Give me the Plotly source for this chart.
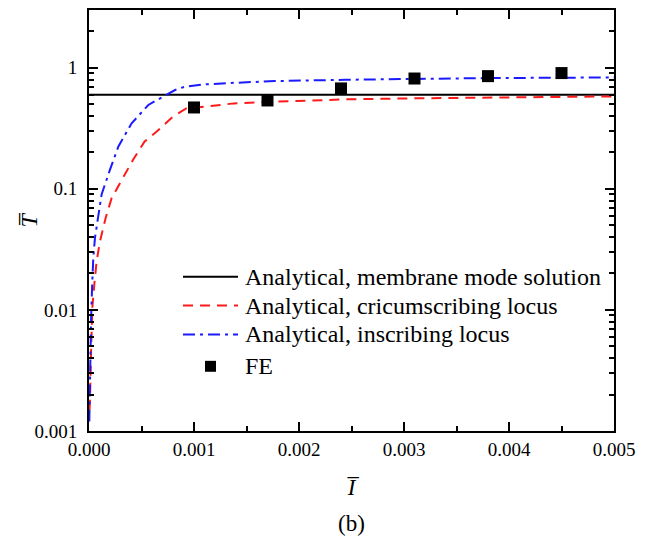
import plotly.graph_objects as go

# ---- data ----
membrane_x = [0.0, 0.005]
membrane_y = [0.6, 0.6]

circ_x = [0.000005, 0.00001, 0.00002, 0.000032, 0.000051, 0.000073, 0.000105, 0.000159,
          0.000216, 0.00031, 0.00042, 0.00053, 0.000645, 0.0008, 0.00093, 0.00112,
          0.00138, 0.00178, 0.00244, 0.00311, 0.0038, 0.005]
circ_y = [0.0015, 0.0019, 0.0046, 0.0105, 0.0164, 0.0254, 0.037, 0.0577,
          0.084, 0.119, 0.174, 0.246, 0.297, 0.395, 0.463, 0.478,
          0.508, 0.525, 0.548, 0.559, 0.569, 0.58]

insc_x = [0.000003, 0.00001, 0.00002, 0.00003, 0.000041, 0.000057, 0.000089, 0.00012,
          0.0002, 0.00028, 0.000406, 0.000565, 0.00074, 0.00082, 0.00091, 0.00109,
          0.0014, 0.00177, 0.00244, 0.00311, 0.0038, 0.005]
insc_y = [0.0012, 0.004, 0.0085, 0.016, 0.027, 0.0395, 0.0615, 0.09,
          0.144, 0.224, 0.348, 0.493, 0.6, 0.655, 0.697, 0.728,
          0.752, 0.776, 0.796, 0.812, 0.822, 0.832]

fe_x = [0.001, 0.0017, 0.0024, 0.0031, 0.0038, 0.0045]
fe_y = [0.47, 0.537, 0.675, 0.815, 0.853, 0.904]

x_tickvals = [0, 0.001, 0.002, 0.003, 0.004, 0.005]
x_ticktext = ["0.000", "0.001", "0.002", "0.003", "0.004", "0.005"]

legend_labels = ["Analytical, membrane mode solution",
                 "Analytical, cricumscribing locus",
                 "Analytical, inscribing locus",
                 "FE"]

FONT = "Times New Roman, Liberation Serif, serif"
RED = "#ff1a1a"
BLUE = "#1a1aff"

fig = go.Figure()
fig.add_trace(go.Scatter(x=membrane_x, y=membrane_y, mode="lines",
                         name=legend_labels[0], showlegend=False,
                         line=dict(color="black", width=2)))
fig.add_trace(go.Scatter(x=circ_x, y=circ_y, mode="lines",
                         name=legend_labels[1], showlegend=False,
                         line=dict(color=RED, width=2, dash="10px,7px")))
fig.add_trace(go.Scatter(x=insc_x, y=insc_y, mode="lines",
                         name=legend_labels[2], showlegend=False,
                         line=dict(color=BLUE, width=2, dash="12px,5px,3px,5px")))
fig.add_trace(go.Scatter(x=fe_x, y=fe_y, mode="markers", name=legend_labels[3],
                         showlegend=False,
                         marker=dict(symbol="square", color="black", size=12)))

# ---- hand-made legend (pixel layout converted to paper coords) ----
L, R, T, B = 89, 614, 8, 431
W, H = R - L, B - T
def px(x):
    return (x - L) / W
def py(y):
    return (B - y) / H

row_y = [276, 305, 334, 366]
styles = [dict(color="black", width=2),
          dict(color=RED, width=2, dash="10px,7px"),
          dict(color=BLUE, width=2, dash="12px,5px,3px,5px")]
shapes = []
for yy, st in zip(row_y[:3], styles):
    shapes.append(dict(type="line", xref="paper", yref="paper",
                       x0=px(183), x1=px(238), y0=py(yy), y1=py(yy), line=st))
shapes.append(dict(type="rect", xref="paper", yref="paper",
                   x0=px(205), x1=px(216), y0=py(row_y[3] - 5.5), y1=py(row_y[3] + 5.5),
                   fillcolor="black", line=dict(width=0)))

annotations = []
for yy, lab in zip(row_y, legend_labels):
    annotations.append(dict(text=lab, x=px(243), y=py(yy), xref="paper", yref="paper",
                            xanchor="left", yanchor="middle", showarrow=False,
                            font=dict(size=24, family=FONT)))
annotations.append(dict(text="(b)", x=0.5, y=py(524), xref="paper", yref="paper",
                        xanchor="center", yanchor="middle", showarrow=False,
                        font=dict(size=23, family=FONT)))
# y-axis title
annotations.append(dict(text="<i>T\u0305</i>", x=px(28), y=0.5, xref="paper", yref="paper",
                        xanchor="center", yanchor="middle", showarrow=False, textangle=-90,
                        font=dict(size=24, family=FONT)))

fig.update_layout(
    width=650, height=537,
    margin=dict(l=L, r=650 - R, t=T, b=537 - B),
    paper_bgcolor="white", plot_bgcolor="white",
    font=dict(family=FONT, color="black", size=19),
    showlegend=False,
    shapes=shapes,
    annotations=annotations,
)

fig.update_xaxes(range=[0, 0.005], tickvals=x_tickvals, ticktext=x_ticktext,
                 showline=True, linecolor="black", linewidth=2, mirror="ticks",
                 ticks="inside", ticklen=9, tickwidth=2, tickcolor="black",
                 showgrid=False, zeroline=False,
                 minor=dict(ticks="inside", ticklen=5, tickwidth=2, tickcolor="black",
                            dtick=0.0005, showgrid=False),
                 title=dict(text="<i>I\u0305</i>", font=dict(size=23, family=FONT), standoff=20),
                 tickfont=dict(size=19, family=FONT))

fig.update_yaxes(type="log", range=[-3, 0.4771], dtick=1,
                 showline=True, linecolor="black", linewidth=2, mirror="ticks",
                 ticks="inside", ticklen=9, tickwidth=2, tickcolor="black",
                 showgrid=False, zeroline=False, ticklabelstandoff=6,
                 minor=dict(ticks="inside", ticklen=5, tickwidth=2, tickcolor="black",
                            dtick="D1", showgrid=False),
                 tickfont=dict(size=19, family=FONT))

fig.write_html("out.html")
